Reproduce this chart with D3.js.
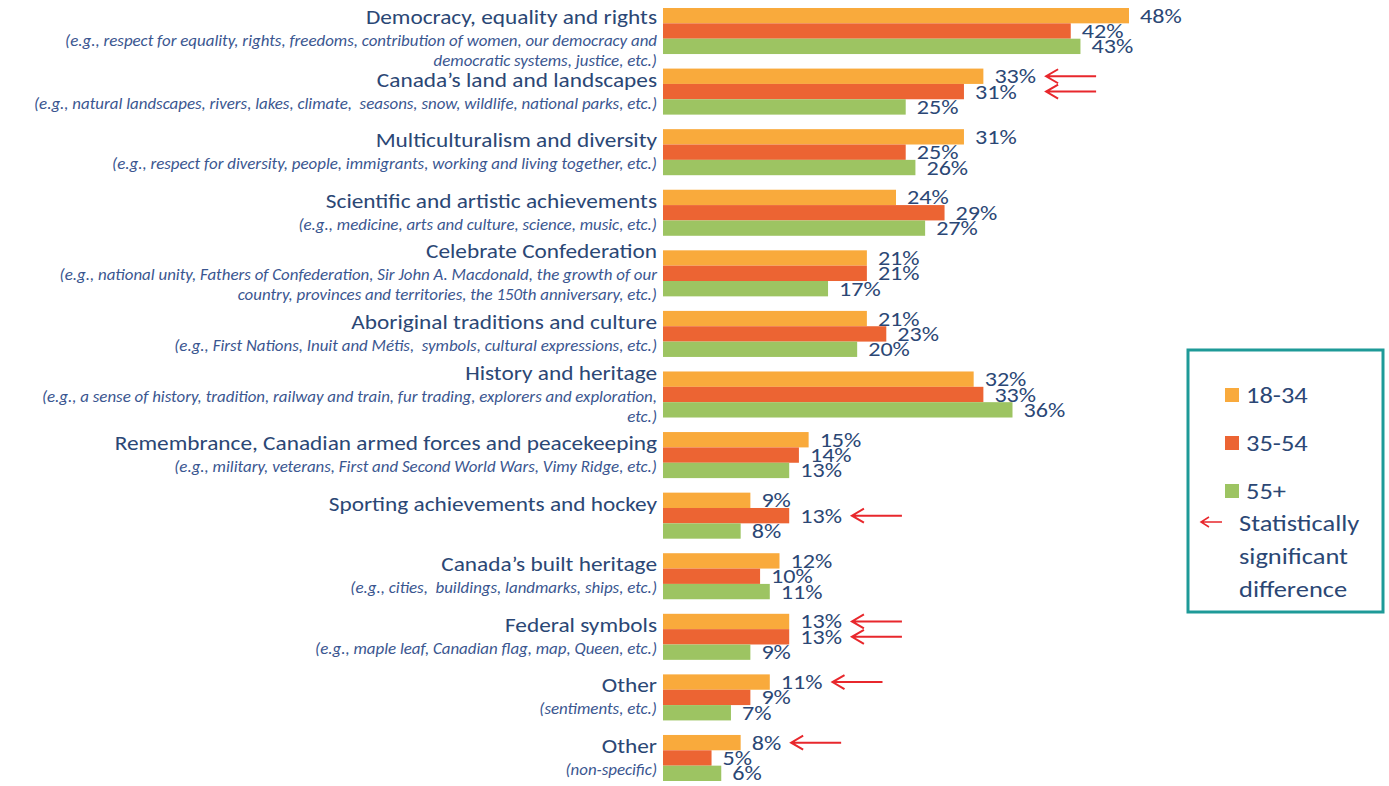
<!DOCTYPE html>
<html>
<head>
<meta charset="utf-8">
<script src="https://cdn.jsdelivr.net/npm/d3@7"></script>
<style>
  body { margin: 0; background: #fff; }
  svg { font-family: Carlito, Lato, sans-serif; }
</style>
</head>
<body>
<div id="chart"></div>
<script>
// categories (main label) and their italic example lines
var categories = [
  "Democracy, equality and rights",
  "Canada\u2019s land and landscapes",
  "Multiculturalism and diversity",
  "Scientific and artistic achievements",
  "Celebrate Confederation",
  "Aboriginal traditions and culture",
  "History and heritage",
  "Remembrance, Canadian armed forces and peacekeeping",
  "Sporting achievements and hockey",
  "Canada\u2019s built heritage",
  "Federal symbols",
  "Other",
  "Other"
];
var examples = [
  ["(e.g., respect for equality, rights, freedoms, contribution of women, our democracy and", "democratic systems, justice, etc.)"],
  ["(e.g., natural landscapes, rivers, lakes, climate,  seasons, snow, wildlife, national parks, etc.)"],
  ["(e.g., respect for diversity, people, immigrants, working and living together, etc.)"],
  ["(e.g., medicine, arts and culture, science, music, etc.)"],
  ["(e.g., national unity, Fathers of Confederation, Sir John A. Macdonald, the growth of our", "country, provinces and territories, the 150th anniversary, etc.)"],
  ["(e.g., First Nations, Inuit and M\u00e9tis,  symbols, cultural expressions, etc.)"],
  ["(e.g., a sense of history, tradition, railway and train, fur trading, explorers and exploration,", "etc.)"],
  ["(e.g., military, veterans, First and Second World Wars, Vimy Ridge, etc.)"],
  [],
  ["(e.g., cities,  buildings, landmarks, ships, etc.)"],
  ["(e.g., maple leaf, Canadian flag, map, Queen, etc.)"],
  ["(sentiments, etc.)"],
  ["(non-specific)"]
];

var series = ["18-34", "35-54", "55+"];
var values1834 = [48, 33, 31, 24, 21, 21, 32, 15, 9, 12, 13, 11, 8];
var values3554 = [42, 31, 25, 29, 21, 23, 33, 14, 13, 10, 13, 9, 5];
var values55 = [43, 25, 26, 27, 17, 20, 36, 13, 8, 11, 9, 7, 6];
// statistically significant difference flags (red arrows)
var sig1834 = [0, 1, 0, 0, 0, 0, 0, 0, 0, 0, 1, 1, 1];
var sig3554 = [0, 1, 0, 0, 0, 0, 0, 0, 1, 0, 1, 0, 0];
var sig55 = [0, 0, 0, 0, 0, 0, 0, 0, 0, 0, 0, 0, 0];
var legendNote = ["Statistically", "significant", "difference"];

var colors = ["#F9AA3C", "#EC6433", "#9DC462"];
var textColor = "#2B4775";
var subColor = "#3A5690";
var arrowColor = "#E8272C";

var width = 1389, height = 786;
var svg = d3.select("#chart").append("svg")
  .attr("width", width)
  .attr("height", height);

// text helper: the original font is a bit wider than Lato, so stretch horizontally
function addText(parent, x, y, size, sx, str) {
  return parent.append("text")
    .attr("transform", "translate(" + x + "," + y + ") scale(" + sx + ",1)")
    .attr("font-size", size)
    .attr("fill", textColor)
    .style("white-space", "pre")
    .text(str);
}

var valueSets = [values1834, values3554, values55];
var sigSets = [sig1834, sig3554, sig55];
var data = categories.map(function(c, i) {
  return {
    idx: i,
    name: c,
    lines: examples[i],
    bars: series.map(function(s, j) {
      return { series: s, j: j, value: valueSets[j][i], sig: sigSets[j][i] };
    })
  };
});

var maxV = d3.max(valueSets, function(a) { return d3.max(a); });
var x = d3.scaleLinear().domain([0, maxV]).range([663, 1129]);
var y = d3.scaleBand().domain(d3.range(categories.length)).range([8, 781]).paddingInner(0.24);
var y1 = d3.scaleBand().domain(series).range([0, y.bandwidth()]);

var groups = svg.selectAll("g.cat")
  .data(data)
  .enter().append("g")
  .attr("class", "cat")
  .attr("transform", function(d) { return "translate(0," + y(d.idx) + ")"; });

groups.selectAll("rect")
  .data(function(d) { return d.bars; })
  .enter().append("rect")
  .attr("x", x(0))
  .attr("y", function(b) { return y1(b.series); })
  .attr("width", function(b) { return x(b.value) - x(0); })
  .attr("height", y1.bandwidth())
  .attr("fill", function(b) { return colors[b.j]; });

// value labels + significance arrows
var labelSx = 1.15;
groups.each(function(d) {
  var g = d3.select(this);
  var tips = [];
  d.bars.forEach(function(b) {
    var cy = y1(b.series) + y1.bandwidth() / 2;
    var t = addText(g, x(b.value) + 11, cy + 7, 21, labelSx, b.value + "%");
    if (b.sig) tips.push({ cy: cy, tip: x(b.value) + 11 + t.node().getComputedTextLength() * labelSx + 10 });
  });
  var tipX = d3.max(tips, function(a) { return a.tip; });
  tips.forEach(function(a) {
    g.append("path")
      .attr("d", "M" + tipX + "," + a.cy + "H" + (tipX + 50) +
                 "M" + (tipX + 12) + "," + (a.cy - 7) + "L" + tipX + "," + a.cy + "L" + (tipX + 12) + "," + (a.cy + 7))
      .attr("fill", "none")
      .attr("stroke", arrowColor)
      .attr("stroke-width", 2);
  });
});

// category labels, right aligned against the bars
var labelX = 657;
groups.each(function(d) {
  var g = d3.select(this);
  var n = Math.max(d.lines.length, 1);
  var span = 24 + 20 * (n - 1);
  var top = y(d.idx);
  // centre of the main line, kept inside the picture
  var m = Math.max(y.bandwidth() / 2 - span / 2, 17 - top);
  addText(g, labelX, m + 7, 21, 1.11, d.name).attr("text-anchor", "end");
  d.lines.forEach(function(l, k) {
    addText(g, labelX, m + 24 + 20 * k + 5, 16, 1.055, l)
      .attr("text-anchor", "end")
      .attr("font-style", "italic")
      .attr("fill", subColor);
  });
});

// legend
var legend = svg.append("g");
legend.append("rect")
  .attr("x", 1188).attr("y", 350)
  .attr("width", 195).attr("height", 262)
  .attr("fill", "#fff")
  .attr("stroke", "#1E9A98")
  .attr("stroke-width", 3);
series.forEach(function(s, j) {
  var cy = 395 + j * 48;
  legend.append("rect")
    .attr("x", 1225).attr("y", cy - 7)
    .attr("width", 14).attr("height", 14)
    .attr("fill", colors[j]);
  addText(legend, 1246, cy + 8, 23, 1.15, s);
});
legend.append("path")
  .attr("d", "M1201,522H1222M1209,517L1201,522L1209,527")
  .attr("fill", "none")
  .attr("stroke", arrowColor)
  .attr("stroke-width", 1.5);
legendNote.forEach(function(l, k) {
  addText(legend, 1239, 531 + k * 33, 23, 1.15, l);
});
</script>
</body>
</html>
